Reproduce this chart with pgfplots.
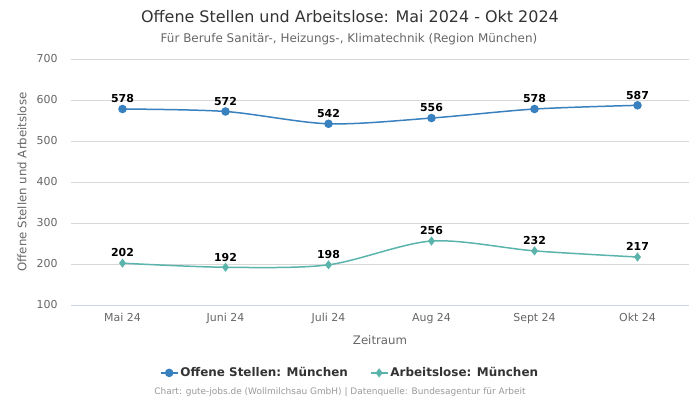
\documentclass[border=0pt]{standalone}
\usepackage{pgfplots}
\pgfplotsset{compat=1.18}
\usepackage{fontspec}
\setmainfont{DejaVu Sans}
\definecolor{blueS}{RGB}{56,128,190}
\definecolor{tealS}{RGB}{90,180,172}
\definecolor{gridc}{RGB}{216,216,216}
\definecolor{basec}{RGB}{204,214,235}
\definecolor{tickc}{RGB}{102,102,102}
\definecolor{titlec}{RGB}{51,51,51}
\definecolor{footc}{RGB}{153,153,153}
\begin{document}
\begin{tikzpicture}
\path[use as bounding box] (0,0) rectangle (700bp,400bp);
\begin{axis}[
  at={(71bp,95bp)}, anchor=south west,
  scale only axis, width=618bp, height=246bp,
  xmin=-0.5, xmax=5.5, ymin=100, ymax=700,
  xtick={0,1,2,3,4,5},
  xticklabels={Mai 24,Juni 24,Juli 24,Aug 24,Sept 24,Okt 24},
  ytick={100,200,...,700},
  axis x line*=bottom, axis y line*=left,
  x axis line style={draw=basec, line width=0.8pt, -},
  y axis line style={draw=none},
  ymajorgrids, grid style={gridc, line width=0.6pt},
  major tick length=0pt,
  /pgf/number format/assume math mode=true,
  ticklabel style={font=\fontsize{11}{13}\selectfont, text=tickc},
  yticklabel style={anchor=east, xshift=-10bp},
  xticklabel style={yshift=-5bp},
  xlabel={Zeitraum},
  ylabel={Offene Stellen und Arbeitslose},
  label style={font=\fontsize{11.8}{14}\selectfont, text=tickc},
  xlabel style={at={(axis description cs:0.5,-0.142)}, anchor=center},
  ylabel style={at={(axis description cs:-0.0793,0.5)}, anchor=center},
  legend style={at={(0.4515,-0.276)}, anchor=center, draw=none, fill=none,
    legend columns=2, font=\bfseries\fontsize{12}{14}\selectfont, text=titlec,
    /tikz/every even column/.append style={column sep=20bp}},
  legend cell align=left,
  nodes near coords,
  every node near coord/.append style={font=\bfseries\fontsize{11}{13}\selectfont, text=black, anchor=south, yshift=2bp},
  clip=false,
]
\addplot[blueS, line width=1.5pt, smooth, tension=0.5, mark=*, mark size=3.5pt, mark options={fill=blueS, draw=blueS}]
  coordinates {(0,578) (1,572) (2,542) (3,556) (4,578) (5,587)};
\addlegendentry{Offene Stellen: München}
\addplot[tealS, line width=1.5pt, smooth, tension=0.5, mark=diamond*, mark size=3.4pt, mark options={fill=tealS, draw=tealS}]
  coordinates {(0,202) (1,192) (2,198) (3,256) (4,232) (5,217)};
\addlegendentry{Arbeitslose: München}
\end{axis}
\node[font=\fontsize{16}{18}\selectfont, text=titlec] at (350bp,383bp) {Offene Stellen und Arbeitslose: Mai 2024 - Okt 2024};
\node[font=\fontsize{12}{14}\selectfont, text=tickc] at (349bp,361bp) {Für Berufe Sanitär-, Heizungs-, Klimatechnik (Region München)};
\node[font=\fontsize{9}{11}\selectfont, text=footc] at (340bp,8bp) {Chart: gute-jobs.de (Wollmilchsau GmbH) | Datenquelle: Bundesagentur für Arbeit};
\end{tikzpicture}
\end{document}
